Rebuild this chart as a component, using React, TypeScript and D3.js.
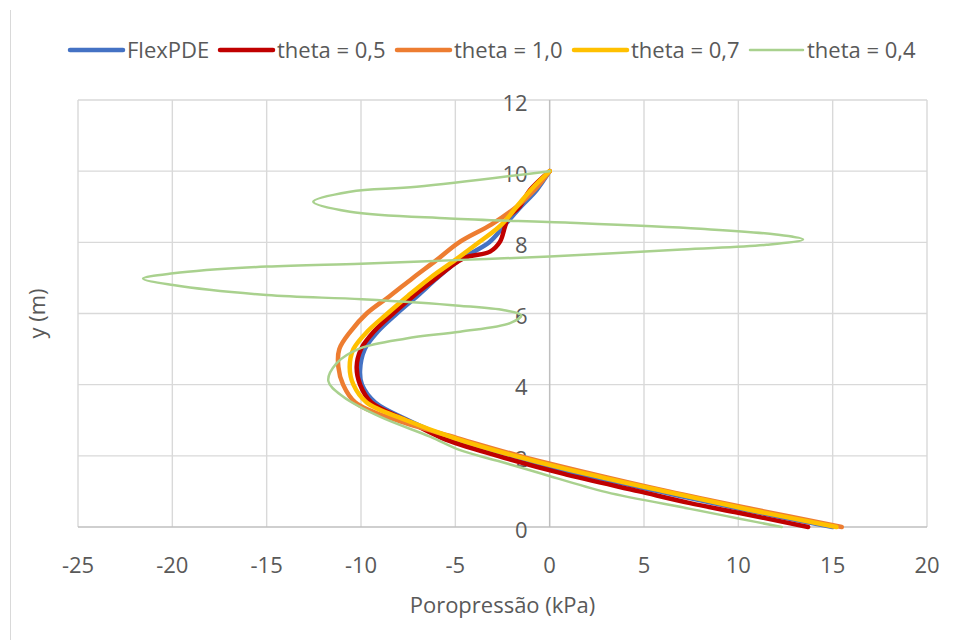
import React from 'react';
import * as d3 from 'd3';

const W = 956;
const H = 640;
const plot = { left: 78, right: 927, top: 100, bottom: 527 };

const xTicks = [-25, -20, -15, -10, -5, 0, 5, 10, 15, 20];
const yTicks = [0, 2, 4, 6, 8, 10, 12];

// [poropressão (kPa), y (m)]
const flexPDE: [number, number][] = [
  [15.0, 0], [10.2, 0.5], [5.8, 1.0], [1.5, 1.5], [-2.3, 2.0], [-5.3, 2.5], [-7.5, 3.0],
  [-9.25, 3.5], [-9.95, 4.0], [-10.05, 4.4], [-9.8, 5.0], [-9.1, 5.5], [-8.1, 6.0],
  [-7.0, 6.5], [-5.95, 7.0], [-4.8, 7.5], [-3.2, 8.0], [-2.36, 8.5], [-1.53, 9.0],
  [-0.69, 9.47], [0, 10],
];

const theta05: [number, number][] = [
  [13.7, 0], [10.0, 0.4], [7.44, 0.67], [4.75, 1.0], [0.7, 1.5], [-2.75, 2.0], [-5.7, 2.5],
  [-7.6, 3.0], [-9.45, 3.5], [-10.05, 4.0], [-10.23, 4.5], [-10.0, 5.0], [-9.3, 5.5],
  [-8.3, 6.0], [-7.2, 6.5], [-6.35, 6.85], [-4.58, 7.55], [-3.16, 7.74], [-2.63, 8.02],
  [-2.37, 8.44], [-2.2, 8.7], [-1.6, 9.0], [-1.04, 9.47], [0, 10],
];

const theta10: [number, number][] = [
  [15.48, 0], [10.8, 0.5], [6.3, 1.0], [2.2, 1.5], [-1.6, 2.0], [-4.9, 2.5], [-8.1, 3.0],
  [-10.3, 3.5], [-10.95, 4.0], [-11.2, 4.5], [-11.15, 5.0], [-10.55, 5.5], [-9.7, 6.0],
  [-8.45, 6.5], [-7.25, 7.0], [-6.0, 7.5], [-4.8, 8.0], [-3.1, 8.5], [-1.75, 9.0],
  [-0.75, 9.5], [0, 10],
];

const theta07: [number, number][] = [
  [15.2, 0], [10.47, 0.5], [6.1, 1.0], [1.9, 1.5], [-1.86, 2.0], [-5.05, 2.5], [-7.6, 3.0],
  [-9.7, 3.5], [-10.4, 4.0], [-10.6, 4.5], [-10.4, 5.0], [-9.65, 5.5], [-8.6, 6.0],
  [-7.5, 6.5], [-6.34, 7.0], [-5.02, 7.5], [-3.75, 8.0], [-2.55, 8.5], [-1.75, 9.0],
  [-0.95, 9.5], [0, 10],
];

const theta04: [number, number][] = [
  [12.3, 0], [10.0, 0.24], [7.44, 0.51], [3.0, 0.98], [-0.5, 1.51], [-2.63, 1.84],
  [-4.75, 2.16], [-6.34, 2.54], [-9.0, 3.1], [-10.94, 3.66], [-11.73, 4.1], [-11.3, 4.6],
  [-10.05, 5.02], [-7.6, 5.3], [-4.75, 5.49], [-2.1, 5.73], [-1.5, 5.95], [-2.4, 6.09],
  [-4.8, 6.22], [-9.95, 6.4], [-15, 6.52], [-19.96, 6.8], [-21.55, 6.98], [-19.95, 7.13],
  [-15, 7.32], [-10, 7.4], [-5.0, 7.5], [0, 7.6], [7.0, 7.8], [11.5, 7.93], [13.43, 8.08],
  [12.0, 8.22], [8.0, 8.38], [1.08, 8.55], [-5.3, 8.67], [-10.58, 8.86], [-12.53, 9.14],
  [-10.58, 9.42], [-7.05, 9.56], [0, 10],
];

const seriesNames = ['FlexPDE', 'theta = 0,5', 'theta = 1,0', 'theta = 0,7', 'theta = 0,4'];
const seriesData = [flexPDE, theta05, theta10, theta07, theta04];
const seriesColors = ['#4472C4', '#C00000', '#ED7D31', '#FFC000', '#A9D18E'];
const seriesWidths = [4.5, 4.5, 4.5, 4.5, 2.5];
const legendX = [70, 220, 397, 574, 750];

const font = '"Open Sans", "Noto Sans", sans-serif';
const textColor = '#595959';
const fs = 22;

export default function App() {
  const x = d3.scaleLinear().domain([-25, 20]).range([plot.left, plot.right]);
  const y = d3.scaleLinear().domain([0, 12]).range([plot.bottom, plot.top]);

  const line = d3
    .line<[number, number]>()
    .x(d => x(d[0]))
    .y(d => y(d[1]))
    .curve(d3.curveCatmullRom.alpha(0.5));

  return (
    <svg
      width={W}
      height={H}
      style={{ position: 'absolute', left: 0, top: 0, background: '#fff' }}
      fontFamily={font}
    >
      <line x1={10.5} x2={10.5} y1={10} y2={H} stroke="#D9D9D9" strokeWidth={1} />

      {/* grid */}
      {yTicks.filter(t => t !== 0).map(t => (
        <line key={'gy' + t} x1={plot.left} x2={plot.right} y1={y(t)} y2={y(t)} stroke="#D9D9D9" strokeWidth={1.4} />
      ))}
      {xTicks.filter(t => t !== 0).map(t => (
        <line key={'gx' + t} x1={x(t)} x2={x(t)} y1={plot.top} y2={plot.bottom} stroke="#D9D9D9" strokeWidth={1.4} />
      ))}
      {/* axes */}
      <line x1={plot.left} x2={plot.right} y1={y(0)} y2={y(0)} stroke="#BFBFBF" strokeWidth={1.5} />
      <line x1={x(0)} x2={x(0)} y1={plot.top} y2={plot.bottom} stroke="#BFBFBF" strokeWidth={1.5} />

      {/* tick labels */}
      {xTicks.map(t => (
        <text key={'tx' + t} x={x(t)} y={573} textAnchor="middle" fontSize={fs} fill={textColor}>
          {t}
        </text>
      ))}
      {yTicks.map(t => (
        <text key={'ty' + t} x={x(0) - 22} y={y(t) + 3} dy="0.35em" textAnchor="end" fontSize={fs} fill={textColor}>
          {t}
        </text>
      ))}

      {/* series */}
      {seriesData.map((d, i) => (
        <path
          key={seriesNames[i]}
          d={line(d) || ''}
          fill="none"
          stroke={seriesColors[i]}
          strokeWidth={seriesWidths[i]}
          strokeLinejoin="round"
          strokeLinecap="round"
        />
      ))}

      {/* axis titles */}
      <text x={(plot.left + plot.right) / 2} y={613} textAnchor="middle" fontSize={fs} fill={textColor}>
        Poropressão (kPa)
      </text>
      <text
        transform={`translate(45, ${(plot.top + plot.bottom) / 2}) rotate(-90)`}
        textAnchor="middle"
        fontSize={fs}
        fill={textColor}
      >
        y (m)
      </text>

      {/* legend */}
      {seriesNames.map((name, i) => (
        <g key={'lg' + name} transform={`translate(${legendX[i]}, 50)`}>
          <line x1={0} x2={53} y1={0} y2={0} stroke={seriesColors[i]} strokeWidth={seriesWidths[i]} strokeLinecap="round" />
          <text x={57} y={0} dy="0.35em" fontSize={fs} fill={textColor}>
            {name}
          </text>
        </g>
      ))}
    </svg>
  );
}
